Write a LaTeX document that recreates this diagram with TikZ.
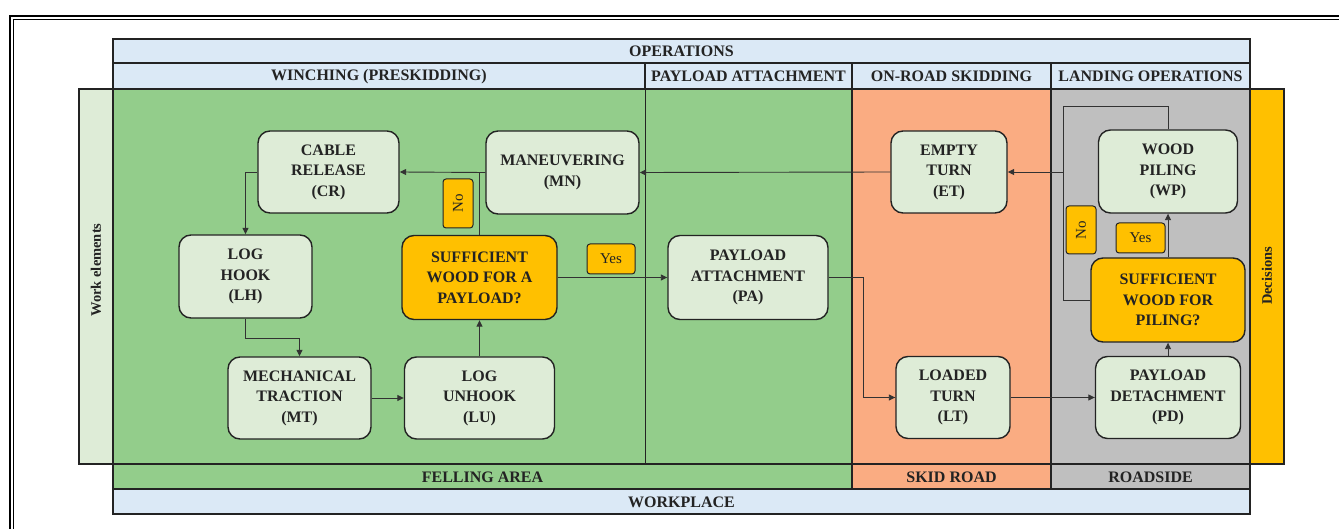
\documentclass[tikz,border=0pt]{standalone}
\usepackage{fontspec}
\setmainfont{Liberation Serif}
\usetikzlibrary{arrows.meta}

\definecolor{hdrblue}{RGB}{219,233,246}
\definecolor{fellgreen}{RGB}{147,205,139}
\definecolor{skidsalmon}{RGB}{250,172,130}
\definecolor{roadgrey}{RGB}{191,191,191}
\definecolor{decorange}{RGB}{255,192,0}
\definecolor{elemgreen}{RGB}{222,236,215}
\definecolor{inkdark}{RGB}{35,35,35}
\definecolor{wiredark}{RGB}{50,50,50}

\begin{document}
\begin{tikzpicture}[x=1pt,y=-1pt,
  panel/.style={draw=inkdark,line width=1.1pt},
  bartext/.style={font=\fontsize{16}{19}\selectfont\bfseries,text=inkdark,inner sep=0pt},
  sidetext/.style={font=\fontsize{14.5}{17}\selectfont\bfseries,text=inkdark,inner sep=0pt,rotate=90},
  task/.style={draw=inkdark,line width=1.4pt,fill=elemgreen,rounded corners=12pt,
    inner sep=0pt,align=center,text=inkdark,font=\fontsize{16}{20.5}\selectfont\bfseries},
  query/.style={task,fill=decorange},
  flag/.style={draw=inkdark,line width=1pt,fill=decorange,rounded corners=3pt,inner sep=0pt,
    text=inkdark,font=\fontsize{15}{18}\selectfont},
  wire/.style={draw=wiredark,line width=0.9pt},
  flow/.style={wire,-{Triangle[length=6.5pt,width=6pt]}}
]
\useasboundingbox (0,0) rectangle (1339,529);

% outer double frame
\draw[line width=2pt,black] (10,529) -- (10,16) -- (1339,16);
\draw[line width=0.9pt,black] (13.5,529) -- (13.5,19.5) -- (1339,19.5);

% area columns
\fill[fellgreen] (113,89) rectangle (852,489);
\fill[skidsalmon] (852,89) rectangle (1051,489);
\fill[roadgrey] (1051,89) rectangle (1250,489);

% side panels
\draw[panel,fill=elemgreen] (79,89) rectangle (113,464);
\draw[panel,fill=decorange] (1250,89) rectangle (1284,464);

% header bars
\draw[panel,fill=hdrblue] (113,39) rectangle (1250,63);
\draw[panel,fill=hdrblue] (113,63) rectangle (1250,89);
\draw[panel,fill=hdrblue] (113,489) rectangle (1250,514);

% column outlines and dividers
\draw[panel] (113,89) rectangle (1250,489);
\draw[panel] (113,464) -- (1250,464);
\draw[panel] (645,63) -- (645,89);
\draw[line width=0.8pt,draw=inkdark] (645,89) -- (645,464);
\draw[panel] (852,63) -- (852,489);
\draw[panel] (1051,63) -- (1051,489);

% bar texts
\node[bartext] (ops) at (681.5,51.5) {OPERATIONS};
\node[bartext] (winch) at (379,76.5) {WINCHING (PRESKIDDING)};
\node[bartext] (payatt) at (748.5,76.5) {PAYLOAD ATTACHMENT};
\node[bartext] (onroad) at (951.5,76.5) {ON-ROAD SKIDDING};
\node[bartext] (landing) at (1150.5,76.5) {LANDING OPERATIONS};
\node[bartext] (felling) at (482.5,477) {FELLING AREA};
\node[bartext] (skid) at (951.5,477) {SKID ROAD};
\node[bartext] (roadside) at (1150.5,477) {ROADSIDE};
\node[bartext] (workplace) at (681.5,502) {WORKPLACE};
\node[sidetext] (welem) at (96,270) {Work elements};
\node[sidetext] (decis) at (1267,276) {Decisions};

% work elements
\node[task,minimum width=141pt,minimum height=82pt] (cr) at (328.5,172) {CABLE\\RELEASE\\(CR)};
\node[task,minimum width=153pt,minimum height=83pt] (mn) at (562.5,172.5) {MANEUVERING\\(MN)};
\node[task,minimum width=116pt,minimum height=82pt] (et) at (949,172) {EMPTY\\TURN\\(ET)};
\node[task,minimum width=139pt,minimum height=83pt] (wp) at (1168,171.5) {WOOD\\PILING\\(WP)};
\node[task,minimum width=133pt,minimum height=83pt] (lh) at (245.5,276.5) {LOG\\HOOK\\(LH)};
\node[query,minimum width=155pt,minimum height=84pt] (dpay) at (479.5,277.5) {SUFFICIENT\\WOOD FOR A\\PAYLOAD?};
\node[task,minimum width=160pt,minimum height=84pt] (pa) at (748,277.5) {PAYLOAD\\ATTACHMENT\\(PA)};
\node[task,minimum width=143pt,minimum height=82pt] (mt) at (299.5,398) {MECHANICAL\\TRACTION\\(MT)};
\node[task,minimum width=150pt,minimum height=82pt] (lu) at (479.5,398) {LOG\\UNHOOK\\(LU)};
\node[task,minimum width=114pt,minimum height=82pt] (lt) at (953,397.5) {LOADED\\TURN\\(LT)};
\node[task,minimum width=145pt,minimum height=82pt] (pd) at (1168,397.5) {PAYLOAD\\DETACHMENT\\(PD)};
\node[query,minimum width=154pt,minimum height=84pt] (dpile) at (1168,300) {SUFFICIENT\\WOOD FOR\\PILING?};

% decision labels
\node[flag,rotate=90,minimum width=49pt,minimum height=30pt] (nopay) at (458,203.5) {No};
\node[flag,minimum width=48pt,minimum height=30pt] (yespay) at (611,259) {Yes};
\node[flag,rotate=90,minimum width=48pt,minimum height=30pt] (nopile) at (1081,230) {No};
\node[flag,minimum width=49pt,minimum height=30pt] (yespile) at (1140.5,238) {Yes};

% connectors
\coordinate (lhbend) at (245.5,338);
\coordinate (pabend) at (863,277.5);
\coordinate (pilejoin) at (1063,172);
\coordinate (piletop) at (1063,106);

\draw[flow] (cr.west) -| (lh.north);
\draw[flow] (lh.south) -- (lhbend) -| (mt.north);
\draw[flow] (mt.east) -- (lu.west);
\draw[flow] (lu.north) -- (dpay.south);
\draw[wire] (dpay.north) -- (dpay.north |- mn.west);
\draw[flow] (mn.west) -- (cr.east);
\draw[flow] (dpay.east) -- (pa.west);
\draw[flow] (pa.east) -- (pabend) |- (lt.west);
\draw[flow] (lt.east) -- (pd.west);
\draw[flow] (pd.north) -- (dpile.south);
\draw[flow] (dpile.north) -- (wp.south);
\draw[flow] (dpile.west) -| (pilejoin) -- (et.east);
\draw[wire] (wp.north) |- (piletop) -- (pilejoin);
\draw[flow] (et.west) -- (mn.east);
\end{tikzpicture}
\end{document}
